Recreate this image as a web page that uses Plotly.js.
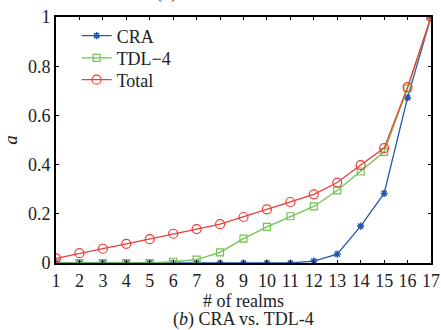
<!DOCTYPE html>
<html>
<head>
<meta charset="utf-8">
<script src="https://cdn.plot.ly/plotly-3.0.1.min.js"></script>
<style>html,body{margin:0;padding:0;background:#fff}#chart{width:441px;height:330px}</style>
</head>
<body>
<div id="chart"></div>
<script>
const realms = [1,2,3,4,5,6,7,8,9,10,11,12,13,14,15,16,17];
const craValues = [0,0,0,0,0,0,0,0,0,0,0,0.008,0.036,0.15,0.283,0.672,1.0];
const tdlValues = [0,0,0,0,0,0.005,0.014,0.043,0.099,0.147,0.19,0.23,0.295,0.372,0.452,0.71,1.0];
const totalValues = [0.019,0.04,0.058,0.078,0.097,0.119,0.138,0.158,0.187,0.218,0.248,0.279,0.327,0.398,0.467,0.715,1.0];
const yTicks = [0,0.2,0.4,0.6,0.8,1];
const yTickText = ['0','0.2','0.4','0.6','0.8','1'];

const FONT = 'Liberation Serif';
const traces = [
  {x: realms, y: craValues, name: 'CRA', mode: 'lines+markers', legend: 'legend',
   line: {color: '#2457b0', width: 1.3},
   marker: {symbol: 'asterisk-open', size: 6, color: '#2457b0', line: {color: '#2457b0', width: 1.5}}},
  {x: realms, y: tdlValues, name: 'TDL\u22124', mode: 'lines+markers', legend: 'legend2',
   line: {color: '#72c24e', width: 1.3},
   marker: {symbol: 'square-open', size: 7, color: '#72c24e', line: {color: '#72c24e', width: 1.2}}},
  {x: realms, y: totalValues, name: 'Total', mode: 'lines+markers', legend: 'legend3',
   line: {color: '#f23a3a', width: 1.3},
   marker: {symbol: 'circle-open', size: 9, color: '#f23a3a', line: {color: '#f23a3a', width: 1.2}}}
];

function leg(y) {
  return {x: 0.055, y: y, xanchor: 'left', yanchor: 'middle', bgcolor: 'rgba(0,0,0,0)',
          font: {family: FONT, size: 18, color: '#222'}, itemwidth: 30};
}

const layout = {
  width: 441, height: 330,
  margin: {l: 56, r: 10, t: 17, b: 67},
  paper_bgcolor: '#fff', plot_bgcolor: '#fff',
  font: {family: FONT, size: 18, color: '#222'},
  showlegend: true,
  legend: leg(0.923), legend2: leg(0.833), legend3: leg(0.744),
  xaxis: {range: [1, 17], tickvals: realms, ticks: 'inside', ticklen: 3, tickcolor: '#000',
          showline: true, linecolor: '#000', linewidth: 2, mirror: 'ticks', showgrid: false, zeroline: false,
          tickfont: {family: FONT, size: 18, color: '#222'},
          title: {text: '# of realms', font: {family: FONT, size: 18, color: '#222'}, standoff: 2}},
  yaxis: {range: [0, 1], tickvals: yTicks, ticktext: yTickText, ticks: 'inside', ticklen: 3, tickcolor: '#000',
          showline: true, linecolor: '#000', linewidth: 2, mirror: 'ticks', showgrid: false, zeroline: false,
          tickfont: {family: FONT, size: 18, color: '#222'},
          title: {text: '<i>a</i>', font: {family: FONT, size: 19, color: '#222'}, standoff: 8}},
  annotations: [
    {text: '(<i>b</i>) CRA vs. TDL-4', xref: 'paper', yref: 'paper', x: 0.5, y: -0.228, yanchor: 'middle',
     showarrow: false, font: {family: FONT, size: 18, color: '#222'}},
    {text: '(<i>a</i>) CRA vs. ZeroAccess', xref: 'paper', yref: 'paper', x: 0.5, y: 1, yanchor: 'bottom',
     yshift: 12, showarrow: false, font: {family: FONT, size: 18, color: '#222'}}
  ]
};
Plotly.newPlot('chart', traces, layout, {displayModeBar: false, staticPlot: true});
</script>
</body>
</html>
